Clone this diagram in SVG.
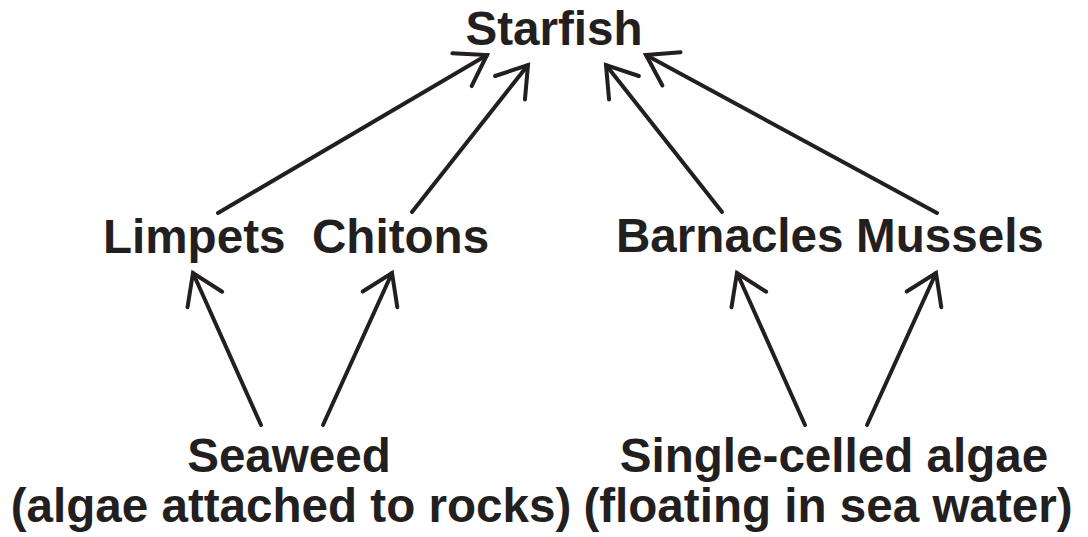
<svg xmlns="http://www.w3.org/2000/svg" width="1088" height="537" viewBox="0 0 1088 537">
  <style>
    text { font-family: "Liberation Sans", Arial, sans-serif; font-weight: bold; font-size: 47.6px; fill: #231f20; }
    .edge { stroke: #231f20; stroke-width: 4; fill: none; stroke-linecap: round; marker-end: url(#arrow); }
  </style>
  <defs>
    <marker id="arrow" markerUnits="userSpaceOnUse" markerWidth="80" markerHeight="80" refX="0" refY="0" orient="auto" overflow="visible">
      <path d="M-29,-19 L0,0 L-29,19" fill="none" stroke="#231f20" stroke-width="4" stroke-linecap="round" stroke-linejoin="miter"/>
    </marker>
  </defs>
  <rect width="1088" height="537" fill="#ffffff"/>
  <g id="connectors">
    <line class="edge" x1="218" y1="213" x2="487" y2="55"/>
    <line class="edge" x1="412" y1="212" x2="528" y2="65"/>
    <line class="edge" x1="722" y1="212" x2="606" y2="65"/>
    <line class="edge" x1="937" y1="213" x2="646" y2="55"/>
    <line class="edge" x1="261" y1="425" x2="193" y2="273"/>
    <line class="edge" x1="323" y1="425" x2="392" y2="273"/>
    <line class="edge" x1="805" y1="425" x2="737" y2="273"/>
    <line class="edge" x1="867" y1="425" x2="936" y2="273"/>
  </g>
  <g id="starfish"><text x="554" y="45" text-anchor="middle">Starfish</text></g>
  <g id="limpets"><text x="103" y="253">Limpets</text></g>
  <g id="chitons"><text x="312" y="253">Chitons</text></g>
  <g id="barnacles"><text x="616" y="252">Barnacles</text></g>
  <g id="mussels"><text x="856" y="252">Mussels</text></g>
  <g id="seaweed">
    <text x="289" y="472" text-anchor="middle">Seaweed</text>
    <text x="291" y="522" text-anchor="middle">(algae attached to rocks)</text>
  </g>
  <g id="single-celled-algae">
    <text x="834" y="472" text-anchor="middle">Single-celled algae</text>
    <text x="828" y="522" text-anchor="middle">(floating in sea water)</text>
  </g>
</svg>
